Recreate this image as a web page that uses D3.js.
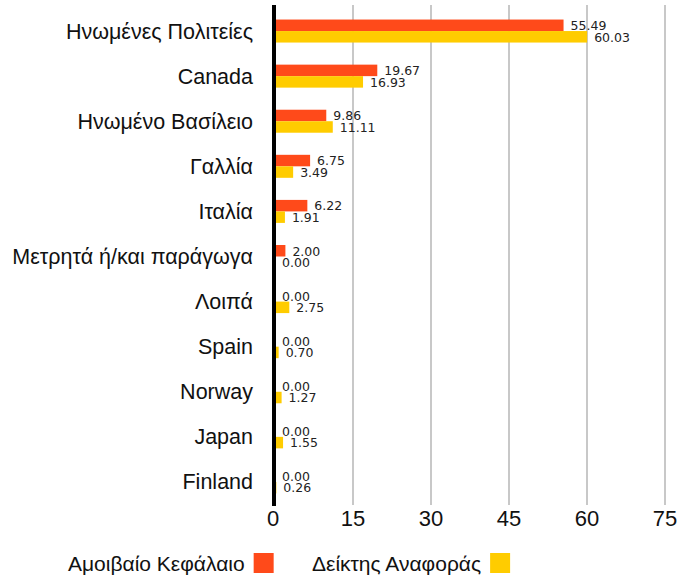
<!DOCTYPE html>
<html>
<head>
<meta charset="utf-8">
<script src="https://cdn.jsdelivr.net/npm/d3@7"></script>
<style>
  body { margin: 0; background: #fff; }
  svg text { font-family: "Liberation Sans", Arial, sans-serif; fill: #111; }
  svg text.val { font-family: "DejaVu Sans", sans-serif; fill: #222; }
</style>
</head>
<body>
<svg width="692" height="581"></svg>
<script>
const categories = ['Ηνωμένες Πολιτείες', 'Canada', 'Ηνωμένο Βασίλειο', 'Γαλλία', 'Ιταλία',
  'Μετρητά ή/και παράγωγα', 'Λοιπά', 'Spain', 'Norway', 'Japan', 'Finland'];
const fundValues = [55.49, 19.67, 9.86, 6.75, 6.22, 2.00, 0.00, 0.00, 0.00, 0.00, 0.00];
const indexValues = [60.03, 16.93, 11.11, 3.49, 1.91, 0.00, 2.75, 0.70, 1.27, 1.55, 0.26];
const seriesNames = ['Αμοιβαίο Κεφάλαιο', 'Δείκτης Αναφοράς'];
const colors = ['#ff4a1a', '#ffcc00'];
const ticks = [0, 15, 30, 45, 60, 75];

const svg = d3.select('svg');

const x = d3.scaleLinear().domain([0, 75]).range([275, 665]);
const y = d3.scaleBand().domain(categories).range([8.5, 504.5]);
const sub = d3.scaleBand().domain([0, 1]).range([y.bandwidth() / 2 - 11.5, y.bandwidth() / 2 + 11.5]);

// gridlines
svg.append('g')
  .selectAll('line')
  .data(ticks.slice(1))
  .join('line')
  .attr('x1', d => x(d)).attr('x2', d => x(d))
  .attr('y1', 5).attr('y2', 505)
  .attr('stroke', '#c8c8c8')
  .attr('stroke-width', 2);

// x axis labels
svg.append('g')
  .selectAll('text')
  .data(ticks)
  .join('text')
  .attr('x', (d, i) => i === 0 ? x(d) - 2 : x(d))
  .attr('y', 526)
  .attr('text-anchor', 'middle')
  .attr('font-size', 22)
  .text(d => d);

// category labels
svg.append('g')
  .selectAll('text')
  .data(categories)
  .join('text')
  .attr('x', 253)
  .attr('y', d => y(d) + y.bandwidth() / 2 + 7.5)
  .attr('text-anchor', 'end')
  .attr('font-size', 21.5)
  .text(d => d);

const series = [fundValues, indexValues];
const labelDy = [-1, 10.5];
series.forEach((vals, si) => {
  const g = svg.append('g');
  g.selectAll('rect')
    .data(vals)
    .join('rect')
    .attr('x', x(0))
    .attr('y', (d, i) => y(categories[i]) + sub(si))
    .attr('width', d => x(d) - x(0))
    .attr('height', sub.bandwidth())
    .attr('fill', colors[si]);
  g.selectAll('text')
    .data(vals)
    .join('text')
    .attr('class', 'val')
    .attr('x', d => x(d) + 7)
    .attr('y', (d, i) => y(categories[i]) + y.bandwidth() / 2 + labelDy[si])
    .attr('font-size', 12.5)
    .text(d => d.toFixed(2));
});

// zero axis
svg.append('line')
  .attr('x1', 274).attr('x2', 274)
  .attr('y1', 5).attr('y2', 506)
  .attr('stroke', '#000')
  .attr('stroke-width', 4);

// legend
const legendX = [68, 312];
const legend = svg.append('g');
seriesNames.forEach((name, i) => {
  const t = legend.append('text')
    .attr('x', legendX[i])
    .attr('y', 571)
    .attr('font-size', 21)
    .text(name);
  const w = t.node().getComputedTextLength();
  legend.append('rect')
    .attr('x', legendX[i] + w + 9)
    .attr('y', 553)
    .attr('width', 20)
    .attr('height', 20)
    .attr('fill', colors[i]);
});
</script>
</body>
</html>
